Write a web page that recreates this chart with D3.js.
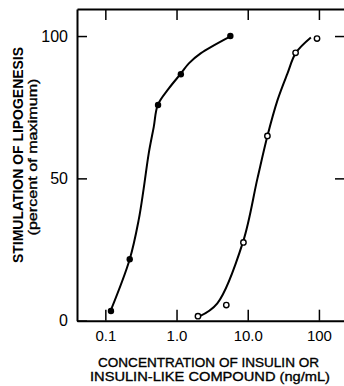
<!DOCTYPE html>
<html lang="en">
<head>
  <meta charset="UTF-8">
  <title>Stimulation of lipogenesis</title>
  <script src="https://d3js.org/d3.v7.min.js"></script>
  <style>
    body { margin: 0; background: white; }
    text {
      fill: black;
      font-family: 'Liberation Sans', Arial, sans-serif;
    }
    .axis path, .axis line { stroke: black; }
    .title { stroke: black; stroke-width: 0.35px; }
  </style>
</head>
<body>
  <svg width="344" height="386"></svg>

  <script>
    // Measured points: insulin (filled) and insulin-like compound (open)
    const insulinConc = [0.12, 0.22, 0.55, 1.15, 5.7];
    const insulinStim = [3.4, 21.6, 75.8, 86.6, 100];
    const compoundConc = [2.0, 5.0, 8.7, 18.9, 47, 94];
    const compoundStim = [1.6, 5.5, 27.5, 64.9, 94.1, 99.1];

    // Hand-drawn fitted curves
    const insulinFitConc = [0.12, 0.22, 0.294, 0.346, 0.407, 0.479, 0.546, 0.78, 1.14, 1.49, 2.18, 5.63];
    const insulinFitStim = [3.8, 21.6, 35.4, 46.5, 58.8, 68.1, 75.8, 81.6, 86.7, 90.4, 93.9, 99.8];
    const compoundFitConc = [2.06, 3.74, 8.59, 13.7, 18.9, 26.2, 36.2, 47.4, 77.1];
    const compoundFitStim = [1.4, 6.1, 27.7, 50, 64.9, 77.5, 86.9, 94.1, 99.5];

    const xTicks = [0.1, 1, 10, 100];
    const xTickLabels = ["0.1", "1.0", "10.0", "100"];
    const yTicks = [0, 50, 100];

    const svg = d3.select("svg");

    const x = d3.scaleLog().domain([0.04, 240]).range([77, 346]);
    const y = d3.scaleLinear().domain([0, 109.5]).range([320.7, 9]);

    // Axes (ticks pointing inward on all four sides)
    svg.append("g")
      .attr("class", "axis")
      .attr("transform", `translate(0,${y(0)})`)
      .call(d3.axisBottom(x).tickValues(xTicks).tickSizeInner(-11).tickSizeOuter(0).tickPadding(10)
        .tickFormat((d, i) => xTickLabels[i]))
      .call(g => g.select(".domain").attr("stroke-width", 2))
      .call(g => g.selectAll(".tick line").attr("stroke-width", 1.5))
      .call(g => g.selectAll("text").style("font-size", "15px"));

    svg.append("g")
      .attr("class", "axis")
      .attr("transform", `translate(0,${y(109.5)})`)
      .call(d3.axisTop(x).tickValues(xTicks).tickSizeInner(-11).tickSizeOuter(0).tickFormat(""))
      .call(g => g.select(".domain").attr("stroke-width", 2))
      .call(g => g.selectAll(".tick line").attr("stroke-width", 1.5));

    svg.append("g")
      .attr("class", "axis")
      .attr("transform", `translate(${x(0.04)},0)`)
      .call(d3.axisLeft(y).tickValues(yTicks).tickSizeInner(-10).tickSizeOuter(0).tickPadding(9))
      .call(g => g.select(".domain").attr("stroke-width", 2))
      .call(g => g.selectAll(".tick line").attr("stroke-width", 1.5))
      .call(g => g.selectAll("text").style("font-size", "16px"));

    svg.append("g")
      .attr("class", "axis")
      .attr("transform", `translate(${x(240)},0)`)
      .call(d3.axisRight(y).tickValues([50, 100]).tickSizeInner(-11).tickSizeOuter(0).tickFormat(""))
      .call(g => g.select(".domain").attr("stroke-width", 2))
      .call(g => g.selectAll(".tick line").attr("stroke-width", 1.5));

    // Fitted curves
    const line = d3.line()
      .x(d => x(d[0]))
      .y(d => y(d[1]))
      .curve(d3.curveCatmullRom.alpha(0.5));

    svg.append("path")
      .datum(d3.zip(insulinFitConc, insulinFitStim))
      .attr("fill", "none")
      .attr("stroke", "black")
      .attr("stroke-width", 2)
      .attr("d", line);

    svg.append("path")
      .datum(d3.zip(compoundFitConc, compoundFitStim))
      .attr("fill", "none")
      .attr("stroke", "black")
      .attr("stroke-width", 2)
      .attr("d", line);

    // Points
    svg.append("g").selectAll("circle")
      .data(d3.zip(insulinConc, insulinStim))
      .enter().append("circle")
      .attr("cx", d => x(d[0]))
      .attr("cy", d => y(d[1]))
      .attr("r", 3.2)
      .attr("fill", "black");

    svg.append("g").selectAll("circle")
      .data(d3.zip(compoundConc, compoundStim))
      .enter().append("circle")
      .attr("cx", d => x(d[0]))
      .attr("cy", d => y(d[1]))
      .attr("r", 2.7)
      .attr("fill", "white")
      .attr("stroke", "black")
      .attr("stroke-width", 1.4);

    // Axis titles
    svg.append("text")
      .attr("class", "title")
      .attr("x", 208.5).attr("y", 367)
      .attr("text-anchor", "middle")
      .attr("textLength", 221).attr("lengthAdjust", "spacingAndGlyphs")
      .style("font-size", "13.5px")
      .text("CONCENTRATION OF INSULIN OR");
    svg.append("text")
      .attr("class", "title")
      .attr("x", 210).attr("y", 381)
      .attr("text-anchor", "middle")
      .attr("textLength", 240).attr("lengthAdjust", "spacingAndGlyphs")
      .style("font-size", "13.5px")
      .text("INSULIN-LIKE COMPOUND (ng/mL)");

    svg.append("text")
      .attr("transform", "translate(23,155) rotate(-90)")
      .attr("text-anchor", "middle")
      .attr("textLength", 216).attr("lengthAdjust", "spacingAndGlyphs")
      .style("font-size", "14px")
      .style("font-weight", "bold")
      .text("STIMULATION OF LIPOGENESIS");
    svg.append("text")
      .attr("class", "title")
      .attr("transform", "translate(37,157) rotate(-90)")
      .attr("text-anchor", "middle")
      .attr("textLength", 157).attr("lengthAdjust", "spacingAndGlyphs")
      .style("font-size", "13.5px")
      .text("(percent of maximum)");
  </script>
</body>
</html>
